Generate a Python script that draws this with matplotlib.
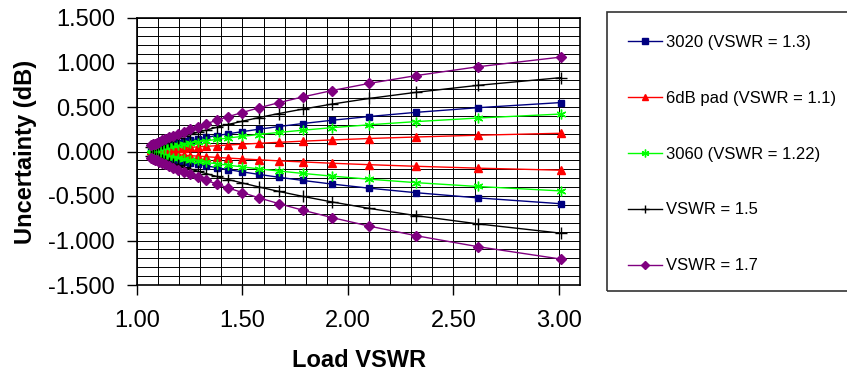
import numpy as np
import matplotlib
matplotlib.use("Agg")
import matplotlib.pyplot as plt
from matplotlib.patches import Rectangle
from matplotlib.ticker import MultipleLocator, FormatStrFormatter

plt.rcParams['font.family'] = ['Liberation Sans', 'DejaVu Sans']

# load VSWR points (x axis)
load_vswr = [3.010, 2.615, 2.323, 2.100, 1.925, 1.785, 1.671, 1.577, 1.499, 1.433,
             1.377, 1.329, 1.288, 1.253, 1.222, 1.196, 1.173, 1.152, 1.135, 1.119,
             1.106, 1.094, 1.083, 1.074, 1.065]

# mismatch uncertainty (dB), upper / lower limit for each source
u3020_hi = [0.550, 0.492, 0.440, 0.393, 0.351, 0.314, 0.280, 0.250, 0.223, 0.199,
            0.178, 0.159, 0.142, 0.126, 0.113, 0.100, 0.089, 0.080, 0.071, 0.063,
            0.057, 0.051, 0.045, 0.040, 0.036]
u3020_lo = [-0.587, -0.521, -0.463, -0.412, -0.366, -0.325, -0.289, -0.257, -0.229, -0.204,
            -0.181, -0.162, -0.144, -0.128, -0.114, -0.102, -0.090, -0.081, -0.072, -0.064,
            -0.057, -0.051, -0.045, -0.040, -0.036]

pad_hi = [0.205, 0.183, 0.163, 0.146, 0.130, 0.116, 0.103, 0.092, 0.082, 0.073,
          0.065, 0.058, 0.052, 0.046, 0.041, 0.037, 0.033, 0.029, 0.026, 0.023,
          0.021, 0.019, 0.016, 0.015, 0.013]
pad_lo = [-0.210, -0.187, -0.166, -0.148, -0.132, -0.117, -0.105, -0.093, -0.083, -0.074,
          -0.066, -0.059, -0.052, -0.047, -0.041, -0.037, -0.033, -0.029, -0.026, -0.023,
          -0.021, -0.019, -0.016, -0.015, -0.013]

u3060_hi = [0.421, 0.376, 0.336, 0.300, 0.268, 0.239, 0.214, 0.191, 0.170, 0.152,
            0.135, 0.121, 0.108, 0.096, 0.086, 0.076, 0.068, 0.061, 0.054, 0.048,
            0.043, 0.038, 0.034, 0.031, 0.027]
u3060_lo = [-0.443, -0.393, -0.350, -0.311, -0.277, -0.246, -0.219, -0.195, -0.173, -0.154,
            -0.138, -0.123, -0.109, -0.097, -0.087, -0.077, -0.069, -0.061, -0.055, -0.049,
            -0.043, -0.039, -0.034, -0.031, -0.027]

v15_hi = [0.830, 0.743, 0.665, 0.596, 0.533, 0.476, 0.426, 0.381, 0.340, 0.304,
          0.271, 0.242, 0.216, 0.193, 0.172, 0.153, 0.137, 0.122, 0.109, 0.097,
          0.087, 0.077, 0.069, 0.062, 0.055]
v15_lo = [-0.918, -0.813, -0.721, -0.639, -0.567, -0.504, -0.448, -0.398, -0.354, -0.315,
          -0.280, -0.249, -0.222, -0.197, -0.176, -0.156, -0.139, -0.124, -0.110, -0.098,
          -0.088, -0.078, -0.069, -0.062, -0.055]

v17_hi = [1.061, 0.952, 0.853, 0.765, 0.685, 0.613, 0.548, 0.490, 0.438, 0.392,
          0.350, 0.313, 0.279, 0.249, 0.222, 0.198, 0.177, 0.158, 0.141, 0.126,
          0.112, 0.100, 0.089, 0.080, 0.071]
v17_lo = [-1.209, -1.069, -0.946, -0.838, -0.743, -0.659, -0.585, -0.520, -0.461, -0.410,
          -0.365, -0.324, -0.288, -0.256, -0.228, -0.203, -0.181, -0.161, -0.143, -0.128,
          -0.114, -0.101, -0.090, -0.080, -0.071]

labels = ['3020 (VSWR = 1.3)', '6dB pad (VSWR = 1.1)', '3060 (VSWR = 1.22)',
          'VSWR = 1.5', 'VSWR = 1.7']
series = [(u3020_hi, u3020_lo), (pad_hi, pad_lo), (u3060_hi, u3060_lo),
          (v15_hi, v15_lo), (v17_hi, v17_lo)]
colors = ['#000080', '#ff0000', '#00ff00', '#000000', '#800080']
markers = ['s', '^', (6, 2, 0), '+', 'D']
msizes = [5, 6, 7, 8, 5]

fig = plt.figure(figsize=(8.47, 3.75), dpi=100)
ax = fig.add_axes([137 / 847, 90 / 375, 443 / 847, 267 / 375])

handles = []
for (hi, lo), c, m, ms, lab in zip(series, colors, markers, msizes, labels):
    h, = ax.plot(load_vswr, hi, color=c, marker=m, ms=ms, lw=1.0,
                 mec=c, mfc=c, mew=1.0, label=lab)
    ax.plot(load_vswr, lo, color=c, marker=m, ms=ms, lw=1.0, mec=c, mfc=c, mew=1.0)
    handles.append(h)

ax.set_xlim(1.0, 3.1)
ax.set_ylim(-1.5, 1.5)
ax.xaxis.set_major_locator(MultipleLocator(0.5))
ax.yaxis.set_major_locator(MultipleLocator(0.5))
ax.xaxis.set_minor_locator(MultipleLocator(0.1))
ax.yaxis.set_minor_locator(MultipleLocator(0.1))
ax.xaxis.set_major_formatter(FormatStrFormatter('%.2f'))
ax.yaxis.set_major_formatter(FormatStrFormatter('%.3f'))
ax.grid(True, which='both', color='black', lw=0.7)
ax.set_axisbelow(True)
ax.tick_params(which='major', direction='out', length=7, width=1, labelsize=17)
ax.tick_params(axis='x', pad=11)
ax.tick_params(axis='y', pad=9)
ax.tick_params(which='minor', length=0)
for s in ax.spines.values():
    s.set_linewidth(1.2)
    s.set_color('black')

ax.set_xlabel('Load VSWR', fontsize=17, fontweight='bold', labelpad=12)
ax.set_ylabel('Uncertainty (dB)', fontsize=17, fontweight='bold', labelpad=8)

# legend frame (runs off the right edge like the original)
fig.patches.append(Rectangle((607 / 847, 1 - 291 / 375), 260 / 847, 279 / 375,
                             transform=fig.transFigure, fill=False,
                             edgecolor='#333333', lw=1.2))
fig.legend(handles=handles, loc='upper left', bbox_to_anchor=(628 / 847, 1 - 35 / 375),
           frameon=False, fontsize=12, handlelength=2.05, handletextpad=0.25,
           labelspacing=2.45, borderpad=0, borderaxespad=0, markerscale=0.8)

fig.savefig('out.png', dpi=100)
